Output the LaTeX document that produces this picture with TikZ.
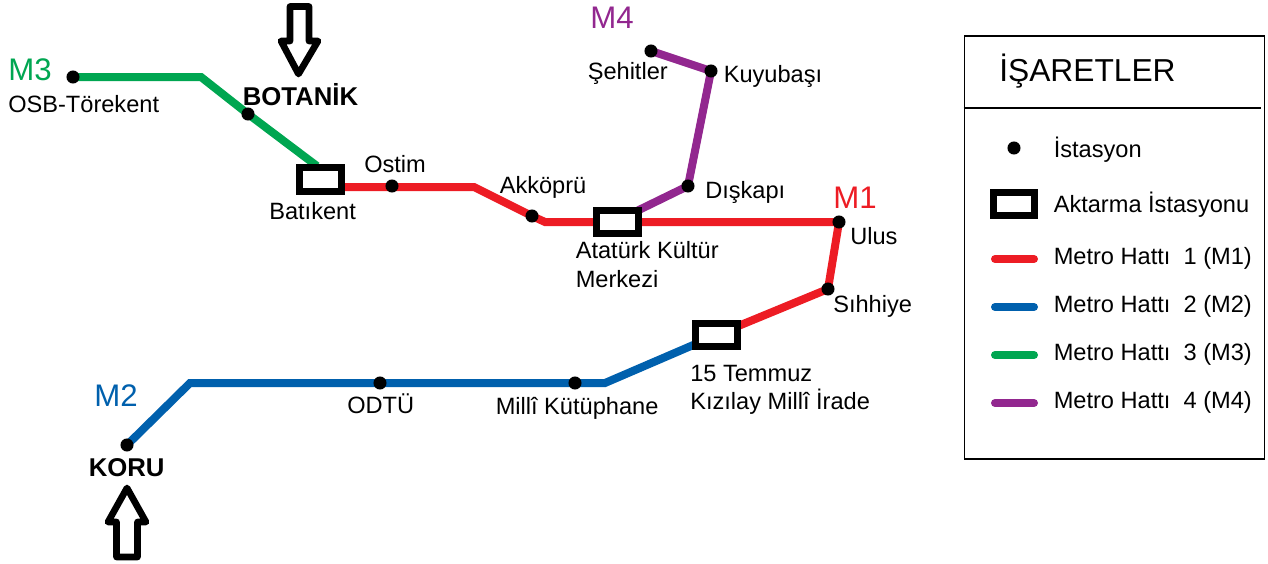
\documentclass[tikz,border=0pt]{standalone}
\usepackage{fontspec}
\setmainfont{Liberation Sans}
\usepackage{xcolor}
\usetikzlibrary{backgrounds}
\definecolor{lineone}{HTML}{ED1C24}
\definecolor{linetwo}{HTML}{0060AD}
\definecolor{linethree}{HTML}{00A651}
\definecolor{linefour}{HTML}{92278F}
\tikzset{
  station/.style={circle,fill=black,inner sep=0pt,minimum size=9.8pt},
  transfer/.style={rectangle,draw=black,fill=white,line width=5.2pt,inner sep=0pt,outer sep=0pt,minimum width=31pt,minimum height=17.5pt},
  metro/.style={line width=6pt},
  legendline/.style={line width=6pt,line cap=round},
  name label/.style={anchor=base west,inner sep=0pt,font=\fontsize{17.7}{21.75}\selectfont},
  stop label/.style={anchor=base west,inner sep=0pt,font=\bfseries\fontsize{19.3}{22}\selectfont},
  line label/.style={anchor=base west,inner sep=0pt,font=\fontsize{23.4}{28}\selectfont},
  gate/.style={draw=black,line width=5pt,line join=round,fill=white}
}

\begin{document}
\begin{tikzpicture}[x=0.75pt,y=-0.75pt]
	\useasboundingbox (0,0) rectangle (1268,564);
	% stations
	\node[station] (osb) at (73,77) {};
	\node[station] (botanik) at (248,114) {};
	\node[transfer] (batikent) at (320.5,179.5) {};
	\node[station] (ostim) at (392,186) {};
	\node[station] (akkopru) at (532,216) {};
	\node[transfer] (akm) at (617.5,222) {};
	\node[station] (ulus) at (839,222) {};
	\node[station] (sihhiye) at (828,289) {};
	\node[transfer] (temmuz) at (716.5,335) {};
	\node[station] (milli) at (575,383) {};
	\node[station] (odtu) at (380,383) {};
	\node[station] (koru) at (127,445) {};
	\node[station] (diskapi) at (688,186) {};
	\node[station] (kuyubasi) at (711,71) {};
	\node[station] (sehitler) at (651,51) {};
	% bends
	\coordinate (bendgreen) at (201,77);
	\coordinate (greenend) at (317,166);
	\coordinate (redstart) at (320,187);
	\coordinate (bendredone) at (474,187);
	\coordinate (bendredtwo) at (545,222);
	\coordinate (bendblueone) at (190,383);
	\coordinate (bendbluetwo) at (605,383);
	\begin{scope}[on background layer]
		\draw[metro,linethree] (osb.center) -- (bendgreen) -- (botanik.center) -- (greenend);
		\draw[metro,lineone] (redstart) -- (bendredone) -- (akkopru.center) -- (bendredtwo) -- (ulus.center) -- (sihhiye.center) -- (temmuz.center);
		\draw[metro,linetwo] (koru.center) -- (bendblueone) -- (bendbluetwo) -- (temmuz.center);
		\draw[metro,linefour] (akm.north east) -- (diskapi.center) -- (kuyubasi.center) -- (sehitler.center);
	\end{scope}
	% labels
	\node[line label,linethree] (mthree) at (8,80) {M3};
	\node[line label,lineone] (mone) at (833,208) {M1};
	\node[line label,linetwo] (mtwo) at (94,406) {M2};
	\node[line label,linefour] (mfour) at (590,28) {M4};
	\node[name label] (osbtext) at (8,112) {OSB-Törekent};
	\node[stop label] (botaniktext) at (242.5,105) {BOTANİK};
	\node[name label] (batikenttext) at (269,219) {Batıkent};
	\node[name label] (ostimtext) at (364,172) {Ostim};
	\node[name label] (akkoprutext) at (499.5,193) {Akköprü};
	\node[name label] (sehitlertext) at (587.5,79) {Şehitler};
	\node[name label] (kuyubasitext) at (723.5,82) {Kuyubaşı};
	\node[name label] (diskapitext) at (705,198) {Dışkapı};
	\node[name label] (ulustext) at (850,244) {Ulus};
	\node[name label] (akmtext) at (575.5,258) {Atatürk Kültür};
	\node[name label] (akmtexttwo) at (575.5,287) {Merkezi};
	\node[name label] (sihhiyetext) at (833,312) {Sıhhiye};
	\node[name label] (temmuztext) at (690,381) {15 Temmuz};
	\node[name label] (kizilaytext) at (690,409) {Kızılay Millî İrade};
	\node[name label] (odtutext) at (347,413) {ODTÜ};
	\node[name label] (millitext) at (495.5,414) {Millî Kütüphane};
	\node[stop label] (korutext) at (88.5,476.5) {KORU};
	% arrows
	\draw[gate] (290,6.5) -- (309,6.5) -- (309,41) -- (318,41) -- (298.5,74) -- (281,41) -- (290,41) -- cycle;
	\draw[gate] (116.5,557) -- (137.5,557) -- (137.5,522) -- (146,522) -- (127,488) -- (108,522) -- (116.5,522) -- cycle;
	% legend
	\node[draw=black,line width=1.4pt,inner sep=0pt,minimum width=225pt,minimum height=317pt] (legend) at (1114.5,247.5) {};
	\coordinate (dividerend) at (1261,108);
	\draw[line width=1.4pt] (legend.west|-dividerend) -- (dividerend);
	\node[anchor=base west,inner sep=0pt,font=\fontsize{23.8}{28}\selectfont] (legendtitle) at (999,81) {İŞARETLER};
	\node[station] (keydot) at (1014,148) {};
	\node[transfer] (keybox) at (1014,204) {};
	\coordinate (keyonea) at (995,259);
	\coordinate (keyoneb) at (1034,259);
	\coordinate (keytwoa) at (995,307);
	\coordinate (keytwob) at (1034,307);
	\coordinate (keythreea) at (995,355);
	\coordinate (keythreeb) at (1034,355);
	\coordinate (keyfoura) at (995,403);
	\coordinate (keyfourb) at (1034,403);
	\draw[legendline,lineone] (keyonea) -- (keyoneb);
	\draw[legendline,linetwo] (keytwoa) -- (keytwob);
	\draw[legendline,linethree] (keythreea) -- (keythreeb);
	\draw[legendline,linefour] (keyfoura) -- (keyfourb);
	\node[name label] (keydottext) at (1053.5,157) {İstasyon};
	\node[name label] (keyboxtext) at (1053.5,212) {Aktarma İstasyonu};
	\node[name label] (keyonetext) at (1053.5,264) {Metro Hattı\ \ 1 (M1)};
	\node[name label] (keytwotext) at (1053.5,312) {Metro Hattı\ \ 2 (M2)};
	\node[name label] (keythreetext) at (1053.5,360) {Metro Hattı\ \ 3 (M3)};
	\node[name label] (keyfourtext) at (1053.5,408) {Metro Hattı\ \ 4 (M4)};
\end{tikzpicture}
\end{document}
